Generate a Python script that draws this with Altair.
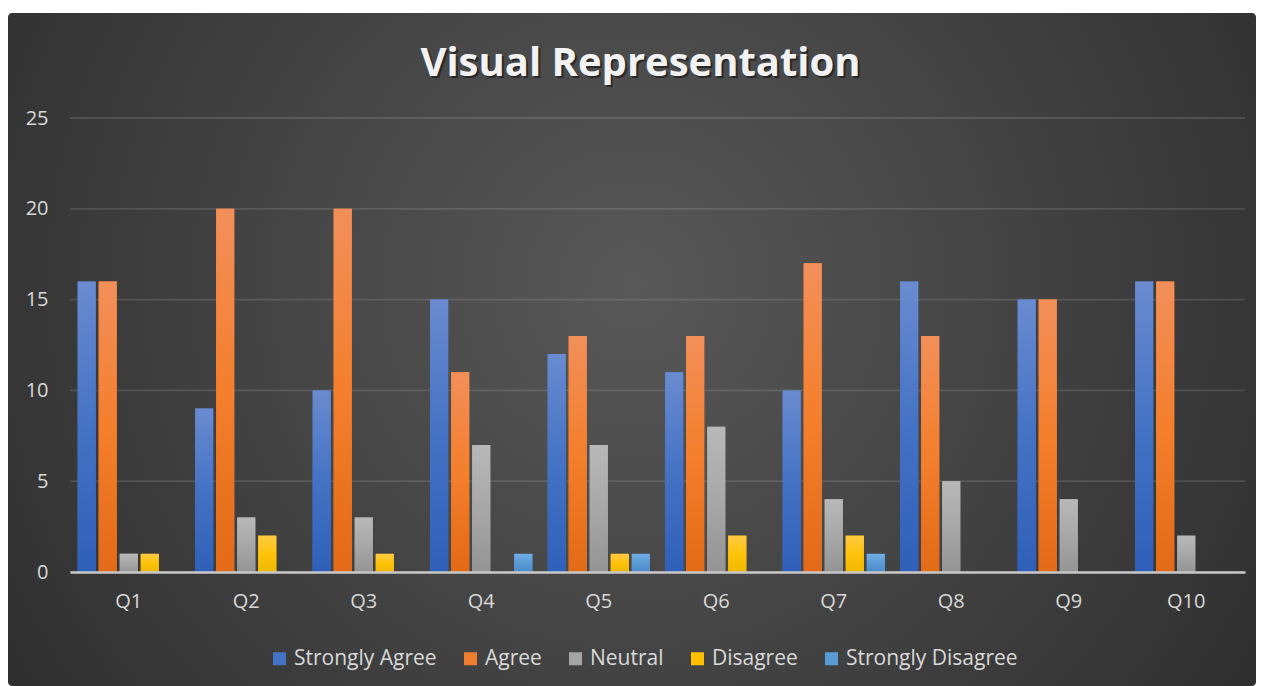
import altair as alt
import pandas as pd

questions = ["Q1", "Q2", "Q3", "Q4", "Q5", "Q6", "Q7", "Q8", "Q9", "Q10"]
series = ["Strongly Agree", "Agree", "Neutral", "Disagree", "Strongly Disagree"]
strongly_agree = [16, 9, 10, 15, 12, 11, 10, 16, 15, 16]
agree = [16, 20, 20, 11, 13, 13, 17, 13, 15, 16]
neutral = [1, 3, 3, 7, 7, 8, 4, 5, 4, 2]
disagree = [1, 2, 1, 0, 1, 2, 2, 0, 0, 0]
strongly_disagree = [0, 0, 0, 1, 1, 0, 1, 0, 0, 0]
y_ticks = [0, 5, 10, 15, 20, 25]
title_text = "Visual Representation"

colors = ["#4472c4", "#ed7d31", "#a5a5a5", "#ffc000", "#5b9bd5"]
grad_stops = [
    ["#6a8bd0", "#4472c4", "#2f60b9"],
    ["#f28f5a", "#f47f2c", "#e36a17"],
    ["#b8b8b8", "#a8a8a8", "#949494"],
    ["#ffca45", "#ffc30a", "#efb800"],
    ["#70aee6", "#5b9bd5", "#4a8bcd"],
]

rows = []
for s, vals in zip(series, [strongly_agree, agree, neutral, disagree, strongly_disagree]):
    for q, v in zip(questions, vals):
        rows.append({"question": q, "series": s, "value": v})
df = pd.DataFrame(rows)
grid_df = pd.DataFrame({"tick": y_ticks})

W, H = 1175, 454
PAD = {"left": 62, "top": 110, "right": 11, "bottom": 114}
FONT = "Open Sans"
TXT = "#d9d9d9"

x_enc = alt.X(
    "question:N", sort=questions,
    scale=alt.Scale(domain=questions, paddingInner=0.13, paddingOuter=0.065),
    axis=alt.Axis(title=None, labelAngle=0, labelFontSize=20, labelFont=FONT,
                  labelColor=TXT, labelPadding=19, ticks=False,
                  domainColor="#c8c8c8", domainWidth=2.5, zindex=2, grid=False),
)
xoff_enc = alt.XOffset(
    "series:N", sort=series,
    scale=alt.Scale(domain=series, paddingInner=0.14, paddingOuter=0),
)
y_enc = alt.Y(
    "value:Q",
    scale=alt.Scale(domain=[0, 25], nice=False),
    axis=alt.Axis(title=None, values=y_ticks, labelFontSize=20, labelFont=FONT,
                  labelColor=TXT, labelPadding=22, ticks=False, domain=False,
                  grid=False, zindex=2),
)

bg = alt.Chart(alt.Data(values=[{}])).mark_rect(
    cornerRadius=4,
    color=alt.RadialGradient(
        gradient="radial", x1=0.5, y1=0.45, r1=0.0, x2=0.5, y2=0.45, r2=0.75,
        stops=[alt.GradientStop(offset=0, color="#585858"),
               alt.GradientStop(offset=0.6, color="#393939"),
               alt.GradientStop(offset=1, color="#252525")],
    ),
).encode(
    x=alt.value(-PAD["left"]), x2=alt.value(W + PAD["right"]),
    y=alt.value(-105), y2=alt.value(H + PAD["bottom"]),
)

title_df = pd.DataFrame({"label": [title_text]})
title_shadow = alt.Chart(title_df).mark_text(
    font=FONT, fontSize=40, fontWeight="bold", color="#000000", opacity=0.45,
    align="center", baseline="alphabetic",
).encode(text="label:N", x=alt.value(572.5), y=alt.value(-40))
title_main = alt.Chart(title_df).mark_text(
    font=FONT, fontSize=40, fontWeight="bold", color="#f2f2f2",
    align="center", baseline="alphabetic",
).encode(text="label:N", x=alt.value(570.5), y=alt.value(-42))

grid = alt.Chart(grid_df).mark_rule(color="#ffffff", opacity=0.12, strokeWidth=1.8).encode(
    y=alt.Y("tick:Q", scale=alt.Scale(domain=[0, 25], nice=False)),
    x=alt.value(0), x2=alt.value(W),
)

base = alt.Chart(df).mark_bar().encode(
    x=x_enc, xOffset=xoff_enc, y=y_enc,
    color=alt.Color(
        "series:N", sort=series,
        scale=alt.Scale(domain=series, range=colors),
        legend=alt.Legend(
            title=None, orient="none", direction="horizontal",
            legendX=199, legendY=530, symbolType="square", symbolSize=169,
            symbolStrokeWidth=0, labelFontSize=21, labelFont=FONT,
            labelColor=TXT, labelOffset=4, labelLimit=400, columnPadding=23,
            zindex=2,
        ),
    ),
)

layers = [bg, title_shadow, title_main, grid, base]
for s, stops in zip(series, grad_stops):
    g = alt.LinearGradient(
        gradient="linear", x1=0, y1=0, x2=0, y2=1,
        stops=[alt.GradientStop(offset=0, color=stops[0]),
               alt.GradientStop(offset=0.5, color=stops[1]),
               alt.GradientStop(offset=1, color=stops[2])],
    )
    layers.append(
        alt.Chart(df).transform_filter(alt.datum.series == s)
        .mark_bar(color=g).encode(x=x_enc, xOffset=xoff_enc, y=y_enc)
    )

chart = alt.layer(*layers).properties(
    width=W, height=H,
    autosize=alt.AutoSizeParams(type="none"),
    padding=PAD,
    background="white",
).configure_view(stroke=None)

chart.save("out.html", embed_options={"renderer": "svg", "actions": False})
